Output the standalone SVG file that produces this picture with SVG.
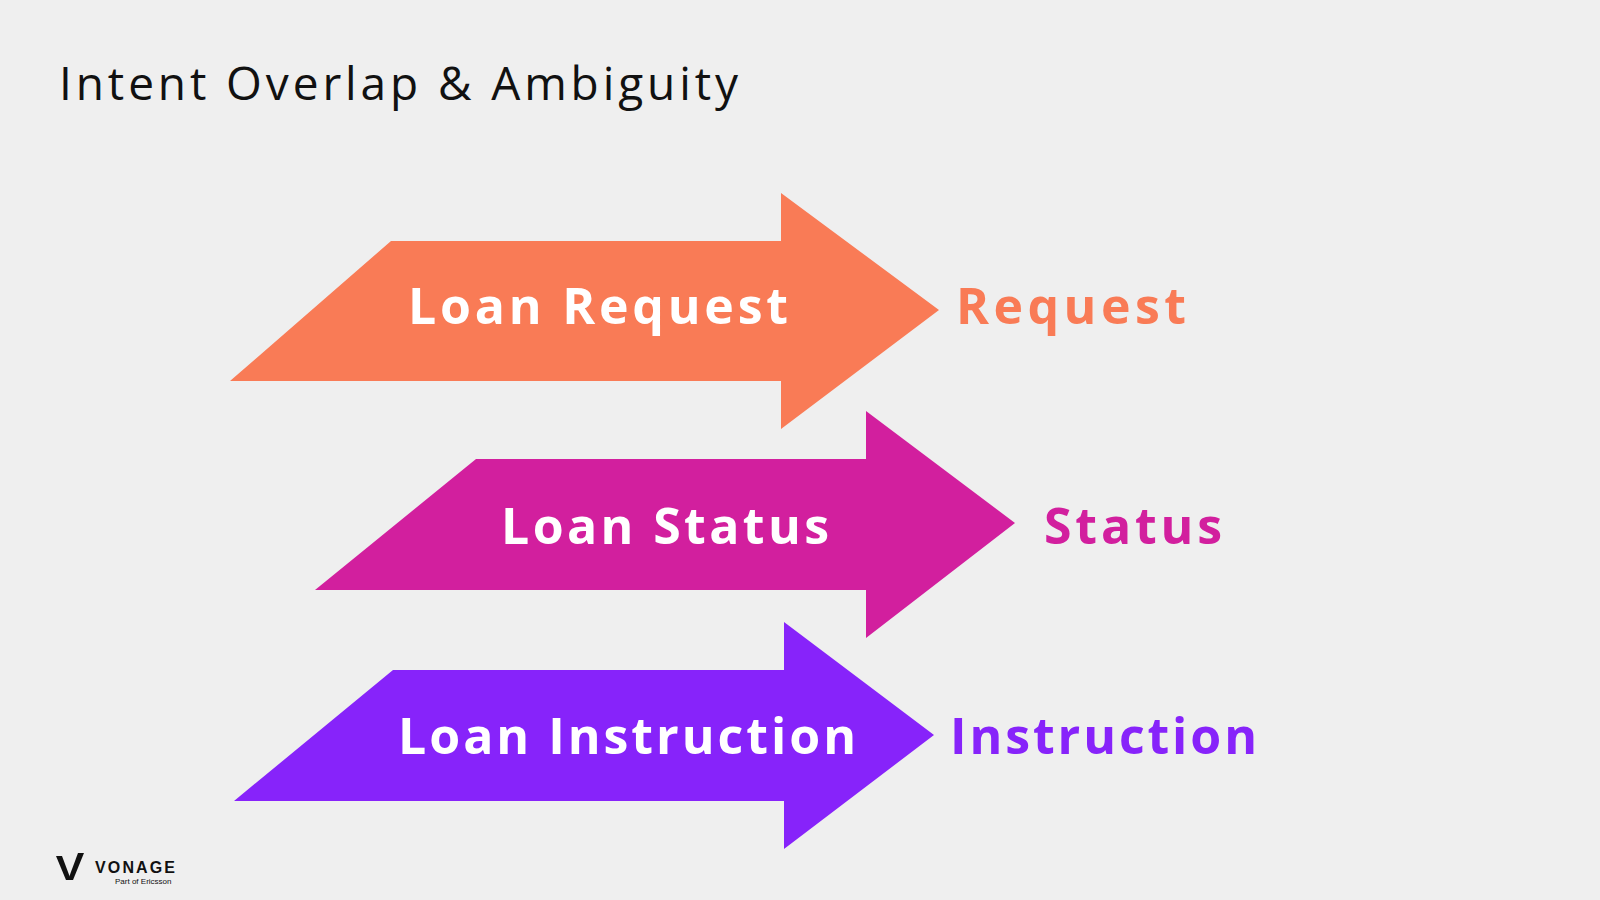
<svg xmlns="http://www.w3.org/2000/svg" width="1600" height="900" viewBox="0 0 1600 900">
<style>
.lbl{font-family:"Open Sans","Liberation Sans",sans-serif;font-weight:700;font-size:50px}
.in{fill:#fff;text-anchor:middle}
</style>
<rect width="1600" height="900" fill="#efefef"/>
<text x="59" y="100" font-family="Open Sans, Liberation Sans, sans-serif" font-size="46" fill="#111" textLength="679" lengthAdjust="spacing">Intent Overlap &amp; Ambiguity</text>
<g id="arrow-request">
<polygon points="391,241 781,241 781,193 939,310 781,429 781,381 230,381" fill="#f97b56"/>
<text class="lbl in" x="598" y="324" textLength="380" lengthAdjust="spacing">Loan Request</text>
</g>
<text id="lbl-request" class="lbl" x="956" y="324" fill="#f97b56" textLength="230" lengthAdjust="spacing">Request</text>
<g id="arrow-status">
<polygon points="476,459 866,459 866,411 1015,523 866,638 866,590 315,590" fill="#d21f9e"/>
<text class="lbl in" x="665" y="544" textLength="328" lengthAdjust="spacing">Loan Status</text>
</g>
<text id="lbl-status" class="lbl" x="1044" y="544" fill="#d21f9e" textLength="178" lengthAdjust="spacing">Status</text>
<g id="arrow-instruction">
<polygon points="393,670 784,670 784,622 934,735 784,849 784,801 234,801" fill="#8723fa"/>
<text class="lbl in" x="627" y="754" textLength="458" lengthAdjust="spacing">Loan Instruction</text>
</g>
<text id="lbl-instruction" class="lbl" x="950" y="754" fill="#8723fa" textLength="307" lengthAdjust="spacing">Instruction</text>
<g id="logo">
<polygon points="56,856 62,856 71,880 66,880" fill="#111"/>
<polygon points="78,853 84,853 73,880 68,880" fill="#111"/>
<text x="95" y="873" font-family="Liberation Sans, sans-serif" font-size="16" font-weight="700" fill="#111" textLength="80" lengthAdjust="spacing">VONAGE</text>
<text x="115" y="884" font-family="Liberation Sans, sans-serif" font-size="8" fill="#111">Part of Ericsson</text>
</g>
</svg>
